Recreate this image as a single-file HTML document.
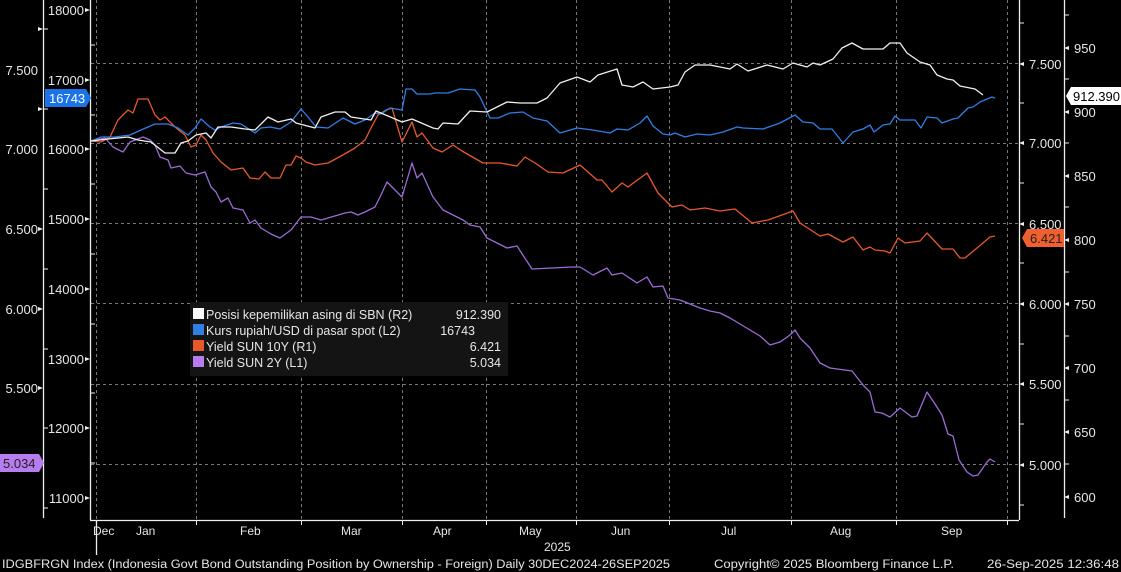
<!DOCTYPE html>
<html><head><meta charset="utf-8"><style>
html,body{margin:0;padding:0;background:#000;}
svg{display:block;}
text{font-family:"Liberation Sans",sans-serif;}
</style></head><body>
<svg width="1121" height="572" viewBox="0 0 1121 572" xmlns="http://www.w3.org/2000/svg">
<rect width="1121" height="572" fill="#000"/>
<g stroke="#777" stroke-width="1" stroke-dasharray="3,3" fill="none">
<line x1="91" y1="63.5" x2="1019" y2="63.5"/>
<line x1="91" y1="143.5" x2="1019" y2="143.5"/>
<line x1="91" y1="223.5" x2="1019" y2="223.5"/>
<line x1="91" y1="303.5" x2="1019" y2="303.5"/>
<line x1="91" y1="384.5" x2="1019" y2="384.5"/>
<line x1="91" y1="464.5" x2="1019" y2="464.5"/>
<line x1="96.5" y1="0" x2="96.5" y2="520"/>
<line x1="196.5" y1="0" x2="196.5" y2="520"/>
<line x1="301.5" y1="0" x2="301.5" y2="520"/>
<line x1="402.5" y1="0" x2="402.5" y2="520"/>
<line x1="486.5" y1="0" x2="486.5" y2="520"/>
<line x1="576.5" y1="0" x2="576.5" y2="520"/>
<line x1="669.5" y1="0" x2="669.5" y2="520"/>
<line x1="791.5" y1="0" x2="791.5" y2="520"/>
<line x1="896.5" y1="0" x2="896.5" y2="520"/>
<line x1="1007.5" y1="0" x2="1007.5" y2="520"/>
</g>
<g stroke="#eee" stroke-width="1.3" fill="none">
<line x1="43.5" y1="0" x2="43.5" y2="518"/>
<line x1="90.5" y1="0" x2="90.5" y2="520"/>
<line x1="90" y1="520.5" x2="1019" y2="520.5"/>
<line x1="1019.5" y1="0" x2="1019.5" y2="520"/>
<line x1="1064.5" y1="0" x2="1064.5" y2="518"/>
<line x1="96.5" y1="520" x2="96.5" y2="555"/>
</g>
<g stroke="#eee" stroke-width="1">
<line x1="43" y1="29" x2="48" y2="29"/><line x1="43" y1="109" x2="48" y2="109"/><line x1="43" y1="189" x2="48" y2="189"/><line x1="43" y1="269" x2="48" y2="269"/><line x1="43" y1="349" x2="48" y2="349"/><line x1="43" y1="428" x2="48" y2="428"/><line x1="43" y1="508" x2="48" y2="508"/>
<line x1="90" y1="45" x2="95" y2="45"/><line x1="90" y1="115" x2="95" y2="115"/><line x1="90" y1="184" x2="95" y2="184"/><line x1="90" y1="254" x2="95" y2="254"/><line x1="90" y1="324" x2="95" y2="324"/><line x1="90" y1="393" x2="95" y2="393"/><line x1="90" y1="463" x2="95" y2="463"/>
<line x1="1019" y1="23" x2="1024" y2="23"/><line x1="1019" y1="103" x2="1024" y2="103"/><line x1="1019" y1="183" x2="1024" y2="183"/><line x1="1019" y1="263" x2="1024" y2="263"/><line x1="1019" y1="344" x2="1024" y2="344"/><line x1="1019" y1="424" x2="1024" y2="424"/><line x1="1019" y1="505" x2="1024" y2="505"/>
<line x1="1064" y1="15" x2="1069" y2="15"/><line x1="1064" y1="79" x2="1069" y2="79"/><line x1="1064" y1="143" x2="1069" y2="143"/><line x1="1064" y1="207" x2="1069" y2="207"/><line x1="1064" y1="272" x2="1069" y2="272"/><line x1="1064" y1="336" x2="1069" y2="336"/><line x1="1064" y1="400" x2="1069" y2="400"/><line x1="1064" y1="464" x2="1069" y2="464"/>
<line x1="196.5" y1="520" x2="196.5" y2="525"/><line x1="301.5" y1="520" x2="301.5" y2="525"/><line x1="402.5" y1="520" x2="402.5" y2="525"/><line x1="486.5" y1="520" x2="486.5" y2="525"/><line x1="576.5" y1="520" x2="576.5" y2="525"/><line x1="669.5" y1="520" x2="669.5" y2="525"/><line x1="791.5" y1="520" x2="791.5" y2="525"/><line x1="896.5" y1="520" x2="896.5" y2="525"/><line x1="1007.5" y1="520" x2="1007.5" y2="525"/>
</g>
<g font-size="13" fill="#e6e6e6">
<g text-anchor="end">
<text x="38" y="75">7.500</text><text x="38" y="154">7.000</text><text x="38" y="234">6.500</text><text x="38" y="314">6.000</text><text x="38" y="393">5.500</text>
<text x="84" y="15">18000</text><text x="84" y="85">17000</text><text x="84" y="154">16000</text><text x="84" y="224">15000</text><text x="84" y="294">14000</text><text x="84" y="364">13000</text><text x="84" y="433">12000</text><text x="84" y="503">11000</text>
</g>
<text x="1029" y="69">7.500</text><text x="1029" y="148">7.000</text><text x="1029" y="229">6.500</text><text x="1029" y="309">6.000</text><text x="1029" y="389">5.500</text><text x="1029" y="470">5.000</text>
<text x="1074" y="53">950</text><text x="1074" y="117">900</text><text x="1074" y="181">850</text><text x="1074" y="245">800</text><text x="1074" y="309">750</text><text x="1074" y="373">700</text><text x="1074" y="437">650</text><text x="1074" y="502">600</text>
</g>
<g fill="#eee" stroke="none">
<polygon points="43,29 38,27 38,31"/><polygon points="43,109 38,107 38,111"/><polygon points="43,229 38,227 38,231"/><polygon points="43,309 38,307 38,311"/><polygon points="43,388 38,386 38,390"/>
<polygon points="90,10 85,8 85,12"/><polygon points="90,80 85,78 85,82"/><polygon points="90,149 85,147 85,151"/><polygon points="90,219 85,217 85,221"/><polygon points="90,289 85,287 85,291"/><polygon points="90,359 85,357 85,361"/><polygon points="90,428 85,426 85,430"/><polygon points="90,498 85,496 85,500"/>
<polygon points="1019,64 1024,62 1024,66"/><polygon points="1019,143 1024,141 1024,145"/><polygon points="1019,224 1024,222 1024,226"/><polygon points="1019,304 1024,302 1024,306"/><polygon points="1019,384 1024,382 1024,386"/><polygon points="1019,465 1024,463 1024,467"/>
<polygon points="1064,48 1069,46 1069,50"/><polygon points="1064,112 1069,110 1069,114"/><polygon points="1064,176 1069,174 1069,178"/><polygon points="1064,240 1069,238 1069,242"/><polygon points="1064,304 1069,302 1069,306"/><polygon points="1064,368 1069,366 1069,370"/><polygon points="1064,432 1069,430 1069,434"/><polygon points="1064,497 1069,495 1069,499"/>
</g>
<g font-size="12" fill="#e6e6e6">
<text x="93" y="535">Dec</text><text x="136" y="535">Jan</text><text x="240" y="535">Feb</text><text x="341" y="535">Mar</text><text x="433" y="535">Apr</text><text x="519" y="535">May</text><text x="611" y="535">Jun</text><text x="721" y="535">Jul</text><text x="830" y="535">Aug</text><text x="941" y="535">Sep</text>
<text x="544" y="551">2025</text>
<text x="2" y="568" font-size="11.5" textLength="668" lengthAdjust="spacingAndGlyphs">IDGBFRGN Index (Indonesia Govt Bond Outstanding Position by Ownership - Foreign)  Daily 30DEC2024-26SEP2025</text>
<text x="714" y="568" font-size="11.5" textLength="240" lengthAdjust="spacingAndGlyphs">Copyright© 2025 Bloomberg Finance L.P.</text>
<text x="987" y="568" font-size="11.5" textLength="132" lengthAdjust="spacingAndGlyphs">26-Sep-2025 12:36:48</text>
</g>
<g fill="none" stroke-width="1.3" stroke-linejoin="round">
<polyline stroke="#9b6bd6" points="91,141 105,138 113,147 123,152 130,142 143,137 150,140 155,145 160,157 168,160 171,168 180,166 186,173 195,175 205,172 211,187 216,192 221,202 228,198 233,208 243,210 250,223 255,220 261,228 271,234 280,238 291,230 301,217 311,217 321,220 328,218 345,213 351,212 358,215 365,212 375,207 380,197 387,182 402,197 412,163 417,178 422,173 433,197 443,210 463,220 470,225 480,227 487,238 507,248 517,246 532,269 572,267 580,267 593,275 607,268 612,275 622,273 637,283 647,277 653,287 663,286 668,298 680,300 690,304 700,308 710,311 720,313 730,318 740,324 750,330 760,336 770,345 780,342 790,335 795,330 800,338 810,348 820,363 830,368 852,371 863,385 870,392 875,412 882,413 890,417 900,408 912,417 917,416 927,392 935,404 942,415 948,434 953,436 959,460 967,472 973,476 978,475 987,462 990,459 995,462"/>
<polyline stroke="#e8582a" points="91,141 101,142 110,137 118,120 128,110 133,113 138,99 148,99 155,115 160,120 165,117 175,127 185,135 191,147 196,145 201,135 206,140 213,153 221,162 231,170 243,168 250,178 259,179 265,172 271,178 280,178 286,165 291,165 296,156 301,158 306,162 315,165 328,163 341,156 355,148 365,140 371,128 378,115 386,110 392,108 402,142 412,122 417,137 422,133 433,148 442,152 453,145 462,151 483,163 500,163 517,166 525,157 535,163 548,172 563,173 580,165 597,180 602,180 612,192 622,183 628,187 647,173 658,193 672,207 682,205 690,210 705,208 720,211 735,209 752,223 768,220 793,211 800,223 820,236 828,234 843,242 853,237 863,250 870,247 875,250 885,251 890,253 898,238 905,243 920,241 927,233 942,249 953,249 960,258 965,258 977,248 990,237 995,236"/>
<polyline stroke="#2f7fe6" points="91,141 101,137 115,137 130,135 141,130 155,124 168,124 178,128 188,135 195,128 201,119 210,127 215,130 221,127 233,123 241,124 255,133 261,128 270,127 280,129 291,122 301,109 308,117 316,127 328,128 343,118 355,124 365,120 375,113 381,114 390,108 402,110 406,89 412,89 417,94 430,94 435,93 448,93 460,89 475,90 480,97 490,118 498,118 510,113 523,112 533,118 547,121 560,133 577,128 593,130 610,133 617,129 628,130 640,123 647,116 653,126 663,134 670,135 675,133 685,137 697,134 710,135 723,132 737,127 743,128 763,129 780,123 795,115 803,122 813,123 820,129 832,129 843,143 853,132 863,129 870,125 874,132 883,125 890,124 895,116 900,120 915,120 921,128 927,117 937,118 942,123 953,119 958,118 968,108 973,107 980,102 992,97 995,98"/>
<polyline stroke="#f0f0f0" points="91,141 108,139 128,137 138,140 151,142 165,153 175,153 181,143 188,141 196,135 206,133 211,138 218,127 231,127 245,129 255,130 268,117 278,122 291,119 296,123 315,128 321,117 335,112 345,112 351,117 371,120 376,111 388,116 402,122 412,119 433,128 438,129 443,123 458,124 470,111 487,112 507,102 520,103 537,103 547,98 560,83 577,77 590,82 598,75 617,69 622,85 633,87 643,82 653,89 670,87 678,85 685,72 695,65 710,65 730,69 737,64 748,71 767,65 783,69 793,63 807,67 813,63 820,65 833,59 842,48 852,43 863,49 883,49 890,43 900,43 907,53 920,62 930,65 937,75 947,79 953,80 960,86 975,89 983,95"/>
</g>
<rect x="190" y="302" width="318" height="74" fill="#141414"/>
<g font-size="12.5" fill="#e6e6e6">
<rect x="193" y="308" width="11" height="11" fill="#fff"/>
<rect x="193" y="324" width="11" height="11" fill="#2f7fe6"/>
<rect x="193" y="340" width="11" height="11" fill="#e8582a"/>
<rect x="193" y="356" width="11" height="11" fill="#b77cf0"/>
<text x="206" y="319">Posisi kepemilikan asing di SBN (R2)</text><text x="501" y="319" text-anchor="end">912.390</text>
<text x="206" y="335">Kurs rupiah/USD di pasar spot (L2)</text><text x="475" y="335" text-anchor="end">16743</text>
<text x="206" y="351">Yield SUN 10Y (R1)</text><text x="501" y="351" text-anchor="end">6.421</text>
<text x="206" y="367">Yield SUN 2Y (L1)</text><text x="501" y="367" text-anchor="end">5.034</text>
</g>
<polygon points="45,89 86,89 91,98 86,107 45,107" fill="#1a73e8"/>
<text x="49" y="103" font-size="13" fill="#fff">16743</text>
<polygon points="0,454 39,454 44,463 39,472 0,472" fill="#b77cf0"/>
<text x="3" y="468" font-size="13" fill="#222">5.034</text>
<polygon points="1071,87 1121,87 1121,105 1071,105 1066,96" fill="#fff"/>
<text x="1073" y="101" font-size="13" fill="#000">912.390</text>
<polygon points="1027,229 1064,229 1064,247 1027,247 1022,238" fill="#f0602e"/>
<text x="1030" y="243" font-size="13" fill="#222">6.421</text>
</svg>
</body></html>
